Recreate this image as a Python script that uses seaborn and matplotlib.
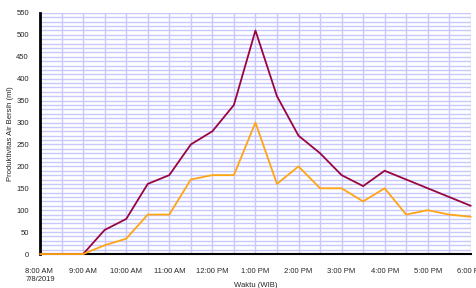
import numpy as np
import pandas as pd
import seaborn as sns
import matplotlib.pyplot as plt
from matplotlib.ticker import MultipleLocator

# data, every 30 minutes from 8:00 to 18:00
jam = [8.0, 8.5, 9.0, 9.5, 10.0, 10.5, 11.0, 11.5, 12.0, 12.5, 13.0,
       13.5, 14.0, 14.5, 15.0, 15.5, 16.0, 16.5, 17.0, 17.5, 18.0]
seri_1 = [0, 0, 0, 55, 80, 160, 180, 250, 280, 340, 510,
          360, 270, 230, 180, 155, 190, 170, 150, 130, 110]
seri_2 = [0, 0, 0, 20, 35, 90, 90, 170, 180, 180, 300,
          160, 200, 150, 150, 120, 150, 90, 100, 90, 85]

tick_jam = [8, 9, 10, 11, 12, 13, 14, 15, 16, 17, 18]
tick_label = ["8:00 AM\n7/8/2019", "9:00 AM", "10:00 AM", "11:00 AM", "12:00 PM",
              "1:00 PM", "2:00 PM", "3:00 PM", "4:00 PM", "5:00 PM", "6:00 PM"]

df = pd.DataFrame({"jam": jam, "s1": seri_1, "s2": seri_2})

sns.set_style("white")
plt.rcParams['font.family'] = ['Liberation Sans', 'DejaVu Sans']

fig = plt.figure(figsize=(4.77, 2.88), dpi=100)
ax = fig.add_axes([0.084, 0.118, 0.903, 0.837])

sns.lineplot(data=df, x="jam", y="s1", color="#99063F", linewidth=1.3, ax=ax, zorder=3, clip_on=False)
sns.lineplot(data=df, x="jam", y="s2", color="#FFA514", linewidth=1.3, ax=ax, zorder=3, clip_on=False)

ax.set_xlim(8, 18)
ax.set_ylim(0, 550)

# grid
ax.yaxis.set_major_locator(MultipleLocator(50))
ax.yaxis.set_minor_locator(MultipleLocator(10))
ax.xaxis.set_minor_locator(MultipleLocator(0.5))
ax.set_xticks(tick_jam)
ax.set_xticklabels(tick_label, ha="center", va="top", multialignment="left")
ax.grid(True, which="both", color="#C8C8FF", linewidth=1.0)
ax.set_axisbelow(True)

for s in ["top", "right"]:
    ax.spines[s].set_visible(False)
ax.spines["left"].set_color("black")
ax.spines["left"].set_linewidth(2)
ax.spines["bottom"].set_color("black")
ax.spines["bottom"].set_linewidth(1.5)

ax.tick_params(axis="y", which="major", length=5, width=1.5, labelsize=5.5, pad=3, color="black")
ax.tick_params(axis="y", which="minor", length=3, width=1.2, color="black")
ax.tick_params(axis="x", which="both", length=5, width=1.5, labelsize=5.5, pad=5, color="black")

ax.set_xlabel("Waktu (WIB)", fontsize=5.5, labelpad=-1)
ax.set_ylabel("Produktivitas Air Bersih (ml)", fontsize=5.5, labelpad=2)

plt.savefig("out.png", dpi=100)
